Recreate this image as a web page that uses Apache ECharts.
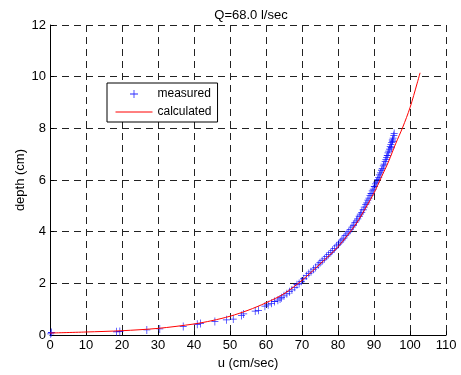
<!DOCTYPE html>
<html>
<head>
<meta charset="utf-8">
<script src="https://cdn.jsdelivr.net/npm/echarts@6/dist/echarts.min.js"></script>
<style>
  html, body { margin: 0; padding: 0; background: #fff; }
  #chart { width: 461px; height: 375px; }
</style>
</head>
<body>
<div id="chart"></div>
<script>
// Velocity profile: measured velocities u (cm/sec) against depth (cm)
const measuredU = [
  0.2, 0.4, 18.5, 19.4, 26.9, 30.5, 37.0, 40.9, 41.8, 45.8, 49.0, 50.9, 53.2, 53.8,
  57.0, 57.9, 59.7, 60.6, 61.5, 62.4, 63.3,
  63.9, 64.3, 65.0, 65.8, 66.5, 67.2, 68.0, 68.6, 69.2, 69.8, 70.5, 71.2, 71.9, 72.5,
  73.2, 73.8, 74.5, 75.0, 75.6, 76.2, 76.8, 77.4, 78.0, 78.5, 79.0, 79.6, 80.1, 80.6,
  81.1, 81.6, 82.0, 82.5, 83.0, 83.4, 83.9, 84.3, 84.7, 85.1, 85.5, 85.9, 86.2, 86.6,
  87.0, 87.3, 87.7, 88.0, 88.3, 88.6, 88.9, 89.2, 89.5, 89.8, 90.1, 90.4, 90.7, 91.0,
  91.3, 91.5, 91.8, 92.1, 92.3, 92.6, 92.8, 93.1, 93.3, 93.5, 93.7, 93.9, 94.1, 94.3,
  94.5, 94.7, 94.9, 95.1, 95.3, 95.5, 95.6, 95.2, 94.8
];
const measuredDepth = [
  0.05, 0.1, 0.13, 0.14, 0.2, 0.24, 0.33, 0.42, 0.45, 0.53, 0.59, 0.62, 0.76, 0.82,
  0.93, 0.96, 1.12, 1.17, 1.23, 1.3, 1.35,
  1.4, 1.45, 1.52, 1.6, 1.68, 1.75, 1.85, 1.95, 2.0, 2.08, 2.18, 2.3, 2.38, 2.45,
  2.55, 2.62, 2.72, 2.8, 2.88, 2.95, 3.05, 3.12, 3.2, 3.28, 3.35, 3.45, 3.52, 3.6,
  3.68, 3.75, 3.85, 3.92, 4.0, 4.08, 4.18, 4.25, 4.35, 4.42, 4.5, 4.6, 4.68, 4.75,
  4.85, 4.95, 5.05, 5.12, 5.22, 5.3, 5.4, 5.48, 5.58, 5.65, 5.75, 5.85, 5.92, 6.02,
  6.1, 6.2, 6.28, 6.38, 6.45, 6.55, 6.62, 6.72, 6.8, 6.88, 6.95, 7.05, 7.12, 7.2,
  7.3, 7.38, 7.45, 7.55, 7.62, 7.72, 7.8, 7.5, 7.25
];

// Calculated profile
const calcU =     [0,    10,   20,   30,   40,   45,   50,   55,   60,   65,  70,   75,   80,   85,  88,  90,  92,  94,  96,  98,   100, 102,  102.8];
const calcDepth = [0.08, 0.12, 0.17, 0.26, 0.43, 0.56, 0.73, 0.96, 1.25, 1.6, 2.12, 2.75, 3.42, 4.3, 5.0, 5.5, 6.1, 6.7, 7.4, 8.05, 8.8, 9.75, 10.15];

const xTicks = { min: 0, max: 110, step: 10 };
const yTicks = { min: 0, max: 12, step: 2 };

const FONT = '"Liberation Sans", Arial, sans-serif';
const PLUS = 'path://M4.5,0h1v10h-1zM0,4.5h10v1h-10z';

const chart = echarts.init(document.getElementById('chart'), null, { renderer: 'canvas' });

const gridLine = { show: true, lineStyle: { color: '#222', width: 1, type: [7, 5] } };

chart.setOption({
  animation: false,
  backgroundColor: '#fff',
  title: {
    text: 'Q=68.0 l/sec',
    left: 246, top: 4, textAlign: 'center',
    textStyle: { fontFamily: FONT, fontSize: 13, fontWeight: 'normal', color: '#000' }
  },
  grid: { left: 50, right: 15, top: 25, bottom: 38, containLabel: false },
  legend: {
    orient: 'vertical',
    left: 107, top: 83,
    padding: [5, 6, 4, 8],
    itemWidth: 37, itemHeight: 8, itemGap: 6,
    borderColor: '#000', borderWidth: 1, backgroundColor: '#fff',
    lineStyle: { width: 1 },
    textStyle: { fontFamily: FONT, fontSize: 12, color: '#000' },
    data: ['measured', 'calculated']
  },
  xAxis: {
    type: 'value',
    min: xTicks.min, max: xTicks.max, interval: xTicks.step,
    name: 'u (cm/sec)', nameLocation: 'middle', nameGap: 20,
    nameTextStyle: { fontFamily: FONT, fontSize: 13, color: '#000' },
    axisLine: { show: true, onZero: false, lineStyle: { color: '#000', width: 1 } },
    axisTick: { show: true, inside: true, length: 4, lineStyle: { color: '#000' } },
    axisLabel: { fontFamily: FONT, fontSize: 13, color: '#000', margin: 4 },
    splitLine: gridLine
  },
  yAxis: {
    type: 'value',
    min: yTicks.min, max: yTicks.max, interval: yTicks.step,
    name: 'depth (cm)', nameLocation: 'middle', nameGap: 30, nameRotate: 90,
    nameMoveOverlap: false,
    nameTextStyle: { fontFamily: FONT, fontSize: 13, color: '#000', verticalAlign: 'middle', align: 'center' },
    axisLine: { show: true, onZero: false, lineStyle: { color: '#000', width: 1 } },
    axisTick: { show: true, inside: true, length: 4, lineStyle: { color: '#000' } },
    axisLabel: { fontFamily: FONT, fontSize: 13, color: '#000', margin: 4 },
    splitLine: gridLine
  },
  series: [
    {
      name: 'measured',
      type: 'scatter',
      symbol: PLUS,
      symbolSize: [7, 8],
      itemStyle: { color: '#0000ff', opacity: 0.85 },
      data: measuredU.map((u, i) => [u, measuredDepth[i]]),
      z: 2
    },
    {
      name: 'calculated',
      type: 'line',
      smooth: 0.3,
      symbol: 'none',
      lineStyle: { color: '#ff0000', width: 1 },
      itemStyle: { color: 'rgba(0,0,0,0)' },
      data: calcU.map((u, i) => [u, calcDepth[i]]),
      z: 3
    }
  ]
});
</script>
</body>
</html>
